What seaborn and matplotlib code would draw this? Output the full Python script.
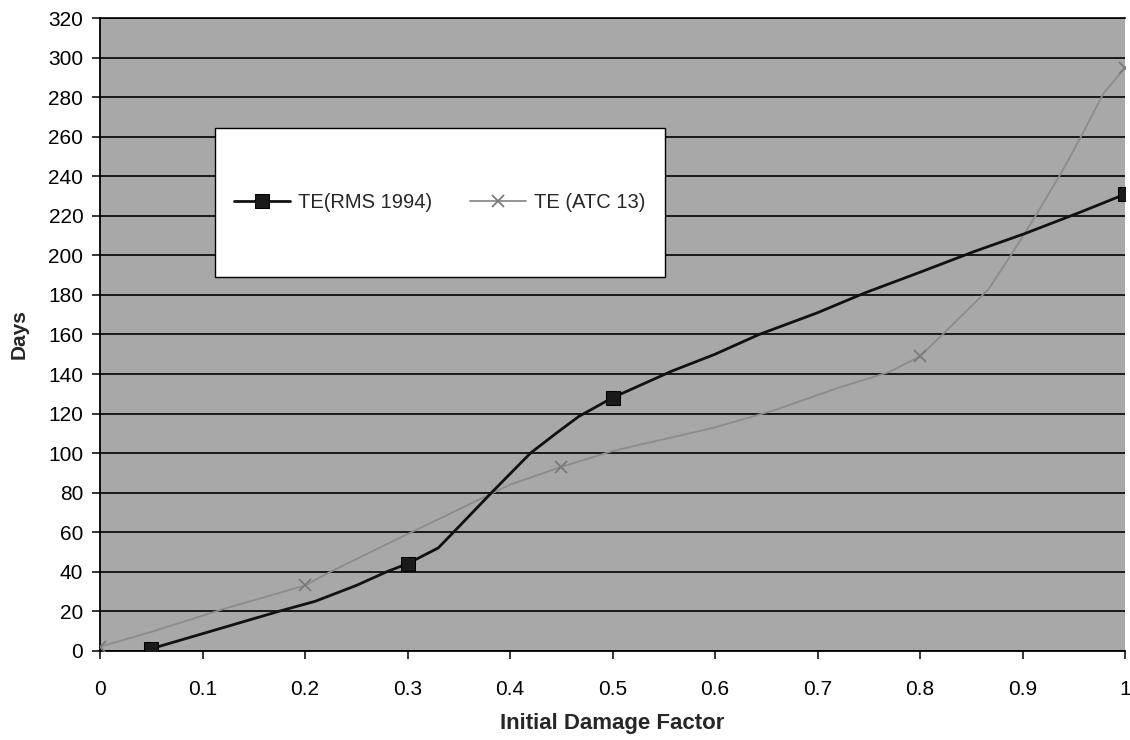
import numpy as np
import pandas as pd
import seaborn as sns
import matplotlib
matplotlib.use("Agg")
import matplotlib.pyplot as plt
from matplotlib.patches import Rectangle

# Restoration time estimates (days) against initial damage factor
rms_x = [0.05, 0.175, 0.21, 0.25, 0.28, 0.30, 0.33, 0.345, 0.383, 0.42, 0.445,
         0.467, 0.50, 0.558, 0.60, 0.643, 0.70, 0.746, 0.80, 0.853, 0.902, 0.957, 1.00]
rms_y = [1, 20, 25, 33, 40, 44, 52, 60, 80.5, 100, 110,
         118.5, 128, 141.5, 150, 160, 171, 181, 191.5, 202, 211, 222, 231]
rms_marked = [0.05, 0.30, 0.50, 1.00]

atc_x = [0.0, 0.05, 0.12, 0.20, 0.225, 0.30, 0.40, 0.45, 0.50, 0.60, 0.66,
         0.72, 0.77, 0.80, 0.82, 0.867, 0.891, 0.915, 0.938, 0.959, 0.979, 1.00]
atc_y = [2, 9.5, 21, 33, 40, 59, 84, 93, 101, 113, 122,
         133, 141, 149, 159, 183, 202, 222, 242, 262, 282, 295]
atc_marked = [0.0, 0.20, 0.45, 0.80, 1.00]

x_ticks = [0, 0.1, 0.2, 0.3, 0.4, 0.5, 0.6, 0.7, 0.8, 0.9, 1.0]
x_tick_labels = ["0", "0.1", "0.2", "0.3", "0.4", "0.5", "0.6", "0.7", "0.8", "0.9", "1"]
y_ticks = list(range(0, 321, 20))

series_names = ["TE(RMS 1994)", "TE (ATC 13)"]

sns.set_theme(style="white")
plt.rcParams["font.family"] = ["Liberation Sans", "DejaVu Sans"]

fig = plt.figure(figsize=(11.3, 7.4), dpi=100)
ax = fig.add_axes([0.0885, 0.1207, 0.9071, 0.8546])
ax.set_facecolor("#a8a8a8")

rms = pd.DataFrame({"x": rms_x, "y": rms_y})
atc = pd.DataFrame({"x": atc_x, "y": atc_y})

rms_every = [i for i, v in enumerate(rms_x) if v in rms_marked]
atc_every = [i for i, v in enumerate(atc_x) if v in atc_marked]

sns.lineplot(data=atc, x="x", y="y", ax=ax, color="#8c8c8c", linewidth=1.3,
             marker="x", markersize=9, markeredgewidth=1.3, markeredgecolor="#7a7a7a",
             markevery=atc_every, label=series_names[1], sort=False, zorder=3)
sns.lineplot(data=rms, x="x", y="y", ax=ax, color="#111111", linewidth=2.0,
             marker="s", markersize=9.5, markerfacecolor="#1a1a1a", markeredgecolor="#000000",
             markevery=rms_every, label=series_names[0], sort=False, zorder=4)

ax.set_xlim(0, 1)
ax.set_ylim(0, 320)
ax.set_xticks(x_ticks)
ax.set_xticklabels(x_tick_labels)
ax.set_yticks(y_ticks)

ax.yaxis.grid(True, color="#000000", linewidth=1.2)
ax.xaxis.grid(False)
ax.set_axisbelow(True)

for side in ["left", "bottom"]:
    ax.spines[side].set_color("#000000")
    ax.spines[side].set_linewidth(1.3)
ax.spines["top"].set_color("#000000")
ax.spines["top"].set_linewidth(1.2)
ax.spines["right"].set_visible(False)

ax.tick_params(axis="both", which="major", direction="out", length=6, width=1.1,
               color="#000000", labelsize=15, labelcolor="#000000",
               bottom=True, left=True)
ax.tick_params(axis="x", pad=15)
ax.tick_params(axis="y", pad=6)

ax.set_xlabel("Initial Damage Factor", fontsize=16, fontweight="bold", labelpad=10)
ax.set_ylabel("Days", fontsize=15, fontweight="bold", labelpad=14)

# White legend panel
box = (0.112, 0.591, 0.439, 0.236)
ax.add_patch(Rectangle((box[0], box[1]), box[2], box[3], transform=ax.transAxes,
                       facecolor="#ffffff", edgecolor="#000000", linewidth=1.0,
                       zorder=5, clip_on=False))

handles, labels = ax.get_legend_handles_labels()
order = [labels.index(n) for n in series_names]
leg = ax.legend([handles[i] for i in order], [labels[i] for i in order],
                ncol=2, loc="center",
                bbox_to_anchor=(box[0] + box[2] / 2, box[1] + box[3] / 2),
                bbox_transform=ax.transAxes, fontsize=14.5,
                handlelength=2.75, handletextpad=0.4, columnspacing=1.9,
                frameon=False)
leg.set_zorder(6)

fig.savefig("out.png", dpi=100, facecolor="white")
